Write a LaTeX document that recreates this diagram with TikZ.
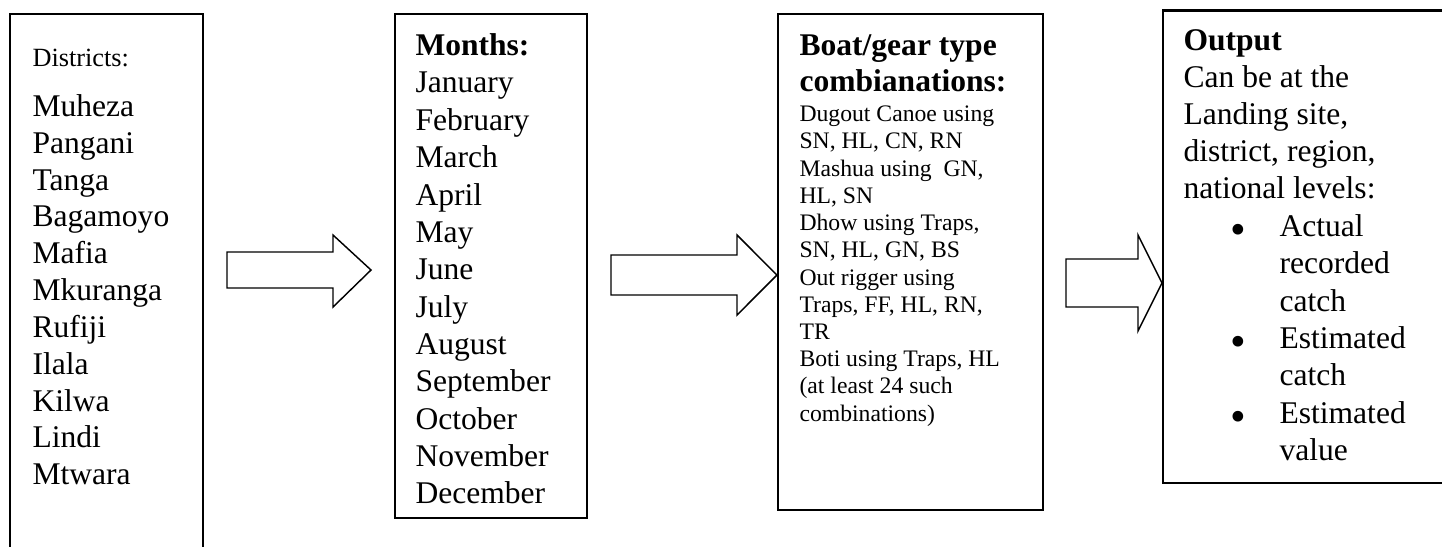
\documentclass[tikz,border=0pt]{standalone}
\usepackage{fontspec}
\setmainfont{Liberation Serif}
\usetikzlibrary{fit}
% a stack of lines whose reference point is the first line's baseline
\newcommand\Lines[1]{\begin{tabular}[t]{@{}l@{}}#1\end{tabular}}
\begin{document}
\begin{tikzpicture}[x=0.3802pt, y=-0.3802pt,
  box/.style={draw, line width=0.8pt, inner sep=0pt},
  blockarrow/.style={draw, line width=0.55pt, line join=miter},
  txt/.style={anchor=base west, inner sep=0pt},
  big/.style={txt, font=\fontsize{12}{14}\selectfont},
  small/.style={txt, font=\fontsize{9}{10.35}\selectfont},
  dot/.style={anchor=base, inner sep=0pt, font=\fontsize{17}{17}\selectfont},
]
\clip (0,0) rectangle (1442,546);

% the four boxes (first runs off the bottom, last off the right side)
\node[box, fit={(10,14) (203,570)}] (districts) {};
\node[box, fit={(395,14) (587,518)}] (months) {};
\node[box, fit={(778,14) (1043,510)}] (combos) {};
\node[box, fit={(1163,10.5) (1460,483)}] (output) {};

% block arrows between the boxes
\draw[blockarrow] (227,252) -- (333,252) -- (333,235) -- (371,270)
  -- (333,307) -- (333,288) -- (227,288) -- cycle;
\draw[blockarrow] (611,255) -- (737,255) -- (737,235) -- (combos.west |- 0,275)
  -- (737,315) -- (737,295) -- (611,295) -- cycle;
\draw[blockarrow] (1066,259) -- (1138,259) -- (1138,235) -- (output.west |- 0,283)
  -- (1138,331) -- (1138,307) -- (1066,307) -- cycle;

% districts
\node[txt, font=\fontsize{10}{11.5}\selectfont] (dhead) at (32,66) {Districts:};
\node[big] (dlist) at (32,116.5) {\Lines{Muheza\\Pangani\\Tanga\\Bagamoyo\\Mafia\\Mkuranga\\Rufiji\\Ilala\\Kilwa\\Lindi\\Mtwara}};

% months
\node[txt, font=\fontsize{12}{14.2}\selectfont] (mlist) at (415,55.6) {\Lines{\textbf{Months:}\\January\\February\\March\\April\\May\\June\\July\\August\\September\\October\\November\\December}};

% boat/gear combinations
\node[txt, font=\fontsize{12}{13.6}\selectfont\bfseries] (chead) at (799,55.6) {\Lines{Boat/gear type\\combianations:}};
\node[small] (clist) at (799,121.7) {\Lines{Dugout Canoe using\\SN, HL, CN, RN\\Mashua using\ \ GN,\\HL, SN\\Dhow using Traps,\\SN, HL, GN, BS\\Out rigger using\\Traps, FF, HL, RN,\\TR\\Boti using Traps, HL\\(at least 24 such\\combinations)}};

% output
\node[txt, font=\fontsize{12}{14.1}\selectfont] (ohead) at (1183,50.4) {\Lines{\textbf{Output}\\Can be at the\\Landing site,\\district, region,\\national levels:}};
\node[txt, font=\fontsize{12}{14.2}\selectfont] (olist) at (1279,236.4) {\Lines{Actual\\recorded\\catch\\Estimated\\catch\\Estimated\\value}};
\node[dot] (b1) at (1238,244.5) {\textbullet};
\node[dot] (b2) at (1238,356.7) {\textbullet};
\node[dot] (b3) at (1238,431.5) {\textbullet};
\end{tikzpicture}
\end{document}
